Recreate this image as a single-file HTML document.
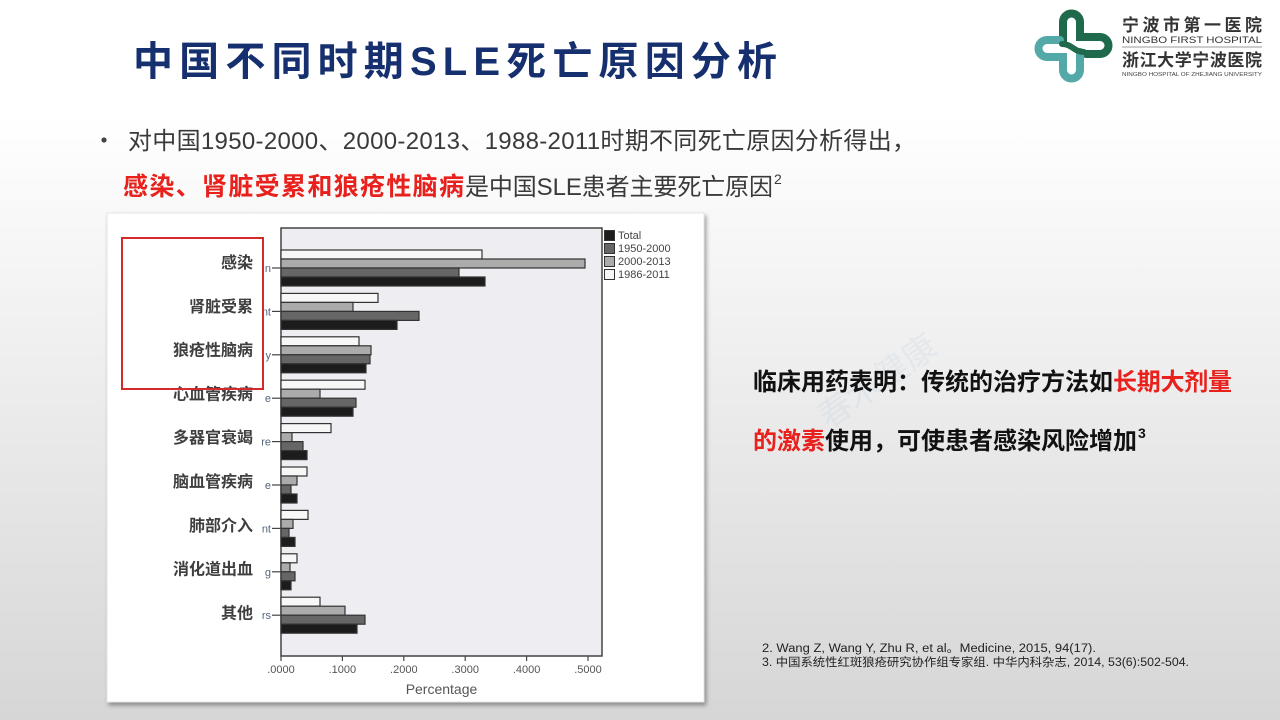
<!DOCTYPE html>
<html><head><meta charset="utf-8"><style>
html,body{margin:0;padding:0;width:1280px;height:720px;overflow:hidden}
svg{display:block}
text{font-family:"Liberation Sans","Noto Sans CJK SC",sans-serif}
</style></head><body>
<svg width="1280" height="720" viewBox="0 0 1280 720" xmlns="http://www.w3.org/2000/svg">
<defs>
<linearGradient id="bg" x1="0" y1="0" x2="0" y2="1">
<stop offset="0" stop-color="#ffffff"/><stop offset="0.16" stop-color="#ffffff"/><stop offset="1" stop-color="#d6d6d6"/>
</linearGradient>
<filter id="sh" x="-5%" y="-5%" width="110%" height="110%"><feDropShadow dx="2" dy="3" stdDeviation="2" flood-color="#000" flood-opacity="0.35"/></filter>
</defs>
<rect x="0" y="0" width="1280" height="720" fill="url(#bg)"/>

<!-- Title -->
<text x="133" y="75" font-size="40" font-weight="bold" fill="#162f6e" textLength="644" lengthAdjust="spacing">中国不同时期SLE死亡原因分析</text>

<!-- Logo -->
<g fill="none" stroke-linecap="round">
<path d="M1063,42 V22 a8.5,8.5 0 0 1 17,0 V37 H1100 a8.5,8.5 0 0 1 0,17 H1086" stroke="#1f6a4c" stroke-width="8"/>
<path d="M1080,52 V70 a8.5,8.5 0 0 1 -17,0 V57 H1047 a8.5,8.5 0 0 1 0,-17 H1060" stroke="#52a9a8" stroke-width="8"/>
<path d="M1062,44 C1072,44 1074,52 1084,52" stroke="#1f6a4c" stroke-width="6"/>
</g>
<text x="1122" y="31" font-size="17" font-weight="bold" fill="#333" textLength="140" lengthAdjust="spacing">宁波市第一医院</text>
<text x="1122" y="43" font-size="9" fill="#333" textLength="140" lengthAdjust="spacingAndGlyphs">NINGBO FIRST HOSPITAL</text>
<line x1="1122" y1="47" x2="1262" y2="47" stroke="#9a9a9a" stroke-width="1"/>
<text x="1122" y="66" font-size="17" font-weight="bold" fill="#333" textLength="140" lengthAdjust="spacing">浙江大学宁波医院</text>
<text x="1122" y="76" font-size="5" fill="#444" textLength="140" lengthAdjust="spacingAndGlyphs">NINGBO HOSPITAL OF ZHEJIANG UNIVERSITY</text>

<!-- Bullet text -->
<circle cx="104" cy="140" r="2.6" fill="#444"/>
<text x="128" y="149" font-size="24" fill="#3a3a3a" textLength="788" lengthAdjust="spacing">对中国1950-2000、2000-2013、1988-2011时期不同死亡原因分析得出，</text>
<text x="123" y="195" font-size="25" font-weight="bold" fill="#e8211d" textLength="341" lengthAdjust="spacing">感染、肾脏受累和狼疮性脑病</text>
<text x="465" y="195" font-size="24" fill="#3a3a3a" textLength="308" lengthAdjust="spacing">是中国SLE患者主要死亡原因</text>
<text x="774" y="184" font-size="14" fill="#3a3a3a">2</text>

<!-- Watermark -->
<text x="800" y="420" font-size="34" fill="#8fb4d8" fill-opacity="0.12" transform="rotate(-35 830 380)">春木健康</text>

<!-- Right text -->
<text x="753" y="390" font-size="24" font-weight="bold" fill="#111" textLength="360" lengthAdjust="spacing">临床用药表明：传统的治疗方法如</text>
<text x="1113" y="390" font-size="24" font-weight="bold" fill="#e8211d" textLength="119" lengthAdjust="spacing">长期大剂量</text>
<text x="753" y="449" font-size="24" font-weight="bold" fill="#e8211d" textLength="72" lengthAdjust="spacing">的激素</text>
<text x="825" y="449" font-size="24" font-weight="bold" fill="#111" textLength="312" lengthAdjust="spacing">使用，可使患者感染风险增加</text>
<text x="1138" y="438" font-size="14" font-weight="bold" fill="#111">3</text>

<!-- References -->
<text x="762" y="652" font-size="11.5" fill="#222" textLength="334" lengthAdjust="spacingAndGlyphs">2. Wang Z, Wang Y, Zhu R, et al。Medicine, 2015, 94(17).</text>
<text x="762" y="666" font-size="11.5" fill="#222" textLength="427" lengthAdjust="spacingAndGlyphs">3. 中国系统性红斑狼疮研究协作组专家组. 中华内科杂志, 2014, 53(6):502-504.</text>

<!-- Chart panel -->
<rect x="107" y="213" width="597" height="489" fill="#ffffff" stroke="#e4e4e4" stroke-width="1" filter="url(#sh)"/>
<rect x="281" y="228" width="321" height="428" fill="#eeeef2" stroke="#444" stroke-width="1.5"/>

<g stroke="#333" stroke-width="1.2">
<!-- group 0, T=268 -->
<rect x="281" y="250" width="201" height="9" fill="#f7f7f7"/>
<rect x="281" y="259" width="304" height="9" fill="#ababab"/>
<rect x="281" y="268" width="178" height="9" fill="#666"/>
<rect x="281" y="277" width="204" height="9" fill="#1c1c1c"/>
<!-- group 1, T=311.4 -->
<rect x="281" y="293.4" width="97" height="9" fill="#f7f7f7"/>
<rect x="281" y="302.4" width="72" height="9" fill="#ababab"/>
<rect x="281" y="311.4" width="138" height="9" fill="#666"/>
<rect x="281" y="320.4" width="116" height="9" fill="#1c1c1c"/>
<!-- group 2, T=354.8 -->
<rect x="281" y="336.8" width="78" height="9" fill="#f7f7f7"/>
<rect x="281" y="345.8" width="90" height="9" fill="#ababab"/>
<rect x="281" y="354.8" width="89" height="9" fill="#666"/>
<rect x="281" y="363.8" width="85" height="9" fill="#1c1c1c"/>
<!-- group 3, T=398.2 -->
<rect x="281" y="380.2" width="84" height="9" fill="#f7f7f7"/>
<rect x="281" y="389.2" width="39" height="9" fill="#ababab"/>
<rect x="281" y="398.2" width="75" height="9" fill="#666"/>
<rect x="281" y="407.2" width="72" height="9" fill="#1c1c1c"/>
<!-- group 4, T=441.6 -->
<rect x="281" y="423.6" width="50" height="9" fill="#f7f7f7"/>
<rect x="281" y="432.6" width="11" height="9" fill="#ababab"/>
<rect x="281" y="441.6" width="22" height="9" fill="#666"/>
<rect x="281" y="450.6" width="26" height="9" fill="#1c1c1c"/>
<!-- group 5, T=485 -->
<rect x="281" y="467" width="26" height="9" fill="#f7f7f7"/>
<rect x="281" y="476" width="16" height="9" fill="#ababab"/>
<rect x="281" y="485" width="10" height="9" fill="#666"/>
<rect x="281" y="494" width="16" height="9" fill="#1c1c1c"/>
<!-- group 6, T=528.4 -->
<rect x="281" y="510.4" width="27" height="9" fill="#f7f7f7"/>
<rect x="281" y="519.4" width="12" height="9" fill="#ababab"/>
<rect x="281" y="528.4" width="8" height="9" fill="#666"/>
<rect x="281" y="537.4" width="14" height="9" fill="#1c1c1c"/>
<!-- group 7, T=571.8 -->
<rect x="281" y="553.8" width="16" height="9" fill="#f7f7f7"/>
<rect x="281" y="562.8" width="9" height="9" fill="#ababab"/>
<rect x="281" y="571.8" width="14" height="9" fill="#666"/>
<rect x="281" y="580.8" width="10" height="9" fill="#1c1c1c"/>
<!-- group 8, T=615.2 -->
<rect x="281" y="597.2" width="39" height="9" fill="#f7f7f7"/>
<rect x="281" y="606.2" width="64" height="9" fill="#ababab"/>
<rect x="281" y="615.2" width="84" height="9" fill="#666"/>
<rect x="281" y="624.2" width="76" height="9" fill="#1c1c1c"/>
</g>

<!-- y ticks -->
<g stroke="#444" stroke-width="1.2">
<line x1="272" y1="268" x2="281" y2="268"/>
<line x1="272" y1="311.4" x2="281" y2="311.4"/>
<line x1="272" y1="354.8" x2="281" y2="354.8"/>
<line x1="272" y1="398.2" x2="281" y2="398.2"/>
<line x1="272" y1="441.6" x2="281" y2="441.6"/>
<line x1="272" y1="485" x2="281" y2="485"/>
<line x1="272" y1="528.4" x2="281" y2="528.4"/>
<line x1="272" y1="571.8" x2="281" y2="571.8"/>
<line x1="272" y1="615.2" x2="281" y2="615.2"/>
</g>
<g font-size="11" fill="#56657d" text-anchor="end">
<text x="271" y="272">n</text>
<text x="271" y="315.4">nt</text>
<text x="271" y="358.8">y</text>
<text x="271" y="402.2">e</text>
<text x="271" y="445.6">re</text>
<text x="271" y="489">e</text>
<text x="271" y="532.4">nt</text>
<text x="271" y="575.8">g</text>
<text x="271" y="619.2">rs</text>
</g>

<!-- x ticks -->
<g stroke="#444" stroke-width="1.2">
<line x1="281" y1="656" x2="281" y2="661"/>
<line x1="342.4" y1="656" x2="342.4" y2="661"/>
<line x1="403.8" y1="656" x2="403.8" y2="661"/>
<line x1="465.2" y1="656" x2="465.2" y2="661"/>
<line x1="526.6" y1="656" x2="526.6" y2="661"/>
<line x1="588" y1="656" x2="588" y2="661"/>
</g>
<g font-size="11" fill="#555" text-anchor="middle">
<text x="281" y="673">.0000</text>
<text x="342.4" y="673">.1000</text>
<text x="403.8" y="673">.2000</text>
<text x="465.2" y="673">.3000</text>
<text x="526.6" y="673">.4000</text>
<text x="588" y="673">.5000</text>
</g>
<text x="441.5" y="694" font-size="14" fill="#555" text-anchor="middle">Percentage</text>

<!-- legend -->
<g stroke="#333" stroke-width="1">
<rect x="604.5" y="230.5" width="10" height="10" fill="#1c1c1c"/>
<rect x="604.5" y="243.5" width="10" height="10" fill="#666"/>
<rect x="604.5" y="256.5" width="10" height="10" fill="#ababab"/>
<rect x="604.5" y="269.5" width="10" height="10" fill="#f7f7f7"/>
</g>
<g font-size="11" fill="#444">
<text x="618" y="239">Total</text>
<text x="618" y="252">1950-2000</text>
<text x="618" y="265">2000-2013</text>
<text x="618" y="278">1986-2011</text>
</g>

<!-- Chinese category labels -->
<g font-size="16" font-weight="bold" fill="#3f3f3f" text-anchor="end">
<text x="253" y="268">感染</text>
<text x="253" y="311.8">肾脏受累</text>
<text x="253" y="355.6">狼疮性脑病</text>
<text x="253" y="399.4">心血管疾病</text>
<text x="253" y="443.2">多器官衰竭</text>
<text x="253" y="487">脑血管疾病</text>
<text x="253" y="530.8">肺部介入</text>
<text x="253" y="574.6">消化道出血</text>
<text x="253" y="618.4">其他</text>
</g>

<rect x="122" y="238" width="141" height="151" fill="none" stroke="#d42a2a" stroke-width="2"/>
</svg>
</body></html>
